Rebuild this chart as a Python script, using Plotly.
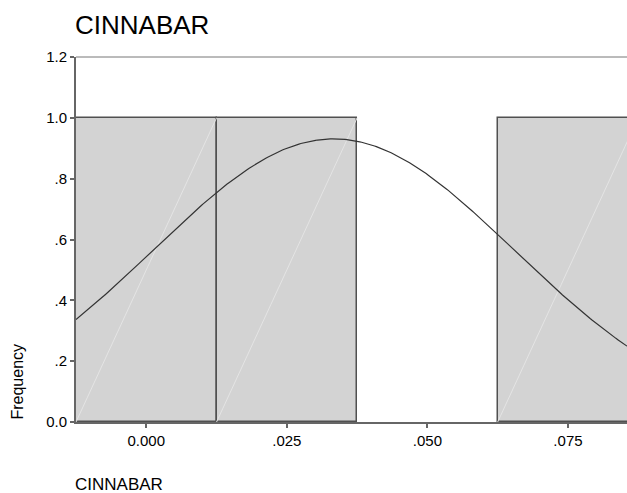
import numpy as np
import plotly.graph_objects as go

# ---- data ----
title_text = "CINNABAR"
values = [0.01, 0.02, 0.07]
bin_start = -0.0125
bin_size = 0.025
n_bins = 4
x_tickvals = [0.0, 0.025, 0.05, 0.075]
x_ticktext = ["0.000", ".025", ".050", ".075"]
y_tickvals = [0.0, 0.2, 0.4, 0.6, 0.8, 1.0, 1.2]
y_ticktext = ["0.0", ".2", ".4", ".6", ".8", "1.0", "1.2"]
x_range = [-0.0125, 0.0855]
y_range = [0, 1.2]

# ---- derived ----
edges = bin_start + bin_size * np.arange(n_bins + 1)
counts, _ = np.histogram(values, bins=edges)
centers = (edges[:-1] + edges[1:]) / 2
mask = counts > 0
mu = float(np.mean(values))
sd = float(np.std(values, ddof=1))
xs = np.linspace(x_range[0], x_range[1], 300)
ys = len(values) * bin_size / (sd * np.sqrt(2 * np.pi)) * np.exp(-0.5 * ((xs - mu) / sd) ** 2)

W, H = 627, 493
L, R, T, B = 76, 0, 57, 70.5
pw, ph = W - L - R, H - T - B


def px(x):
    return (x - L) / pw


def py(y):
    return (H - B - y) / ph


fig = go.Figure()
fig.add_trace(go.Bar(
    x=centers[mask], y=counts[mask], width=bin_size,
    marker=dict(color="#d3d3d3", line=dict(color="#505050", width=1.5)),
    hoverinfo="skip", showlegend=False,
))
# faint diagonal artefact lines inside each bar (SPSS rendering)
dx, dy = [], []
for c, n in zip(centers[mask], counts[mask]):
    dx += [c - bin_size / 2, c + bin_size / 2, None]
    dy += [0, n, None]
fig.add_trace(go.Scatter(x=dx, y=dy, mode="lines",
                         line=dict(color="#e4e4e4", width=1),
                         hoverinfo="skip", showlegend=False))
fig.add_trace(go.Scatter(x=xs, y=ys, mode="lines",
                         line=dict(color="#333333", width=1.2),
                         hoverinfo="skip", showlegend=False))

fig.update_layout(
    width=W, height=H,
    margin=dict(l=L, r=R, t=T, b=B),
    paper_bgcolor="white", plot_bgcolor="white",
    font=dict(family="Liberation Sans, Arial, sans-serif", color="black"),
    bargap=0,
    xaxis=dict(range=x_range, tickvals=x_tickvals, ticktext=x_ticktext,
               showgrid=False, zeroline=False, showline=True, linecolor="#666666",
               linewidth=2, ticks="outside", ticklen=4, tickwidth=2, tickcolor="#666666",
               tickfont=dict(size=15)),
    yaxis=dict(range=y_range, tickvals=y_tickvals, ticktext=y_ticktext,
               showgrid=False, zeroline=False, showline=True, linecolor="#666666",
               linewidth=2, ticks="outside", ticklen=4, tickwidth=2, tickcolor="#666666",
               tickfont=dict(size=15)),
    shapes=[dict(type="line", xref="paper", yref="paper", x0=0, x1=1, y0=1, y1=1,
                 line=dict(color="#777777", width=1))],
    annotations=[
        dict(text=title_text, xref="paper", yref="paper", x=px(73), y=py(25),
             xanchor="left", yanchor="middle", showarrow=False, font=dict(size=26)),
        dict(text=title_text, xref="paper", yref="paper", x=px(73), y=py(485),
             xanchor="left", yanchor="middle", showarrow=False, font=dict(size=17)),
        dict(text="Frequency", xref="paper", yref="paper", x=px(18), y=py(382),
             xanchor="center", yanchor="middle", textangle=-90, showarrow=False,
             font=dict(size=16)),
    ],
)

fig.write_html("out.html", config={"displayModeBar": False},
               post_script="document.body.style.margin='0';document.body.style.overflow='hidden';")
